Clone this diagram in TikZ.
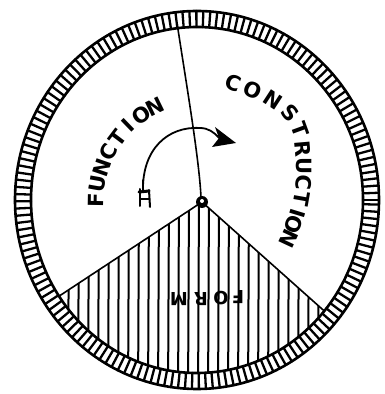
\documentclass[tikz,border=0pt]{standalone}
\usepackage{fontspec}
\newfontfamily\hand{DejaVu Sans}
\tikzset{
  ringline/.style={line width=2.6pt},
  tickline/.style={line width=2.3pt},
  mainline/.style={line width=1.6pt},
  hatchline/.style={line width=2pt},
  lettr/.style={font=\hand\bfseries\fontsize{21}{21}\selectfont, inner sep=0pt},
  formlettr/.style={font=\hand\bfseries\fontsize{18}{18}\selectfont, inner sep=0pt}
}
\begin{document}
\begin{tikzpicture}[x=1pt,y=1pt,line cap=round,line join=round]
\useasboundingbox (0,0) rectangle (385,394);
\fill[white] (0,0) rectangle (385,394);
\coordinate (c0) at (197,194);
\coordinate (hub) at (202,192);
\coordinate (top) at (177,371);
\coordinate (lend) at (-6,55);
\coordinate (rend) at (386,28);
% ring ticks
\begin{scope}[shift={(197,194)}]
  \foreach \a in {0,2.2,...,359} {
    \draw[tickline] (\a:166 and 173) -- (\a:182 and 189);
  }
  \draw[ringline] (0,0) ellipse [x radius=182pt, y radius=189pt];
  \draw[ringline] (0,0) ellipse [x radius=166pt, y radius=173pt];
\end{scope}
% FORM sector
\begin{scope}
  \clip (197,194) ellipse [x radius=166pt, y radius=173pt];
  \begin{scope}
    \clip (hub) -- (lend) -- (-6,-10) -- (386,-10) -- (rend) -- cycle;
    \foreach \x in {58,68,...,335} {
      \draw[hatchline] (\x,-10) -- (\x+1,200);
    }
  \end{scope}
  \draw[mainline] (hub) -- (lend);
  \draw[mainline] (hub) -- (rend);
\end{scope}
% vertical line
\draw[mainline] (top) .. controls (188,300) and (199,235) .. (201,197);
% hub
\fill (hub) circle (6pt);
\fill[white] (202,193) circle (2pt);
% arrow
\draw[line width=1.8pt] (143,203) .. controls (142,245) and (168,268) .. (200,266) .. controls (208,266) and (214,262) .. (219,256);
\fill (215,267) -- (236,251) -- (212,247) -- (219,256) -- cycle;
% tail
\draw[line width=2pt] (140,205) -- (140,188);
\draw[line width=2pt] (149,204) -- (150,187);
\draw[line width=3pt] (139,202) -- (149,203);
\draw[line width=2pt] (140,195) -- (149,195);
\draw[line width=1.6pt] (143,205) -- (143,214);
% FUNCTION
\foreach \ch/\ang [count=\i] in {F/179,U/170,N/161,C/152,T/143,I/134,O/125,N/116} {
  \path (hub) ++(\ang:106) node[lettr, rotate=\ang-90] (fun\i) {\ch};
}
% CONSTRUCTION
\foreach \ch/\px/\py/\r [count=\i] in {C/233/311/-20, O/253/304/-24, N/273/294/-33, S/290/281/-48, T/300/264/-70, R/303/245/-85, U/304/228/-90, C/304/211/-93, T/302/195/-100, I/298/181/-107, O/294/169/-110, N/289/155/-115} {
  \node[lettr, rotate=\r] (con\i) at (\px,\py) {\ch};
}
% FORM upside down
\node[formlettr, rotate=180] (form1) at (238,97) {F};
\node[formlettr, rotate=180] (form2) at (221,96) {O};
\node[formlettr, rotate=180] (form3) at (201,95) {R};
\node[formlettr, rotate=180] (form4) at (179,95) {M};
\end{tikzpicture}
\end{document}
